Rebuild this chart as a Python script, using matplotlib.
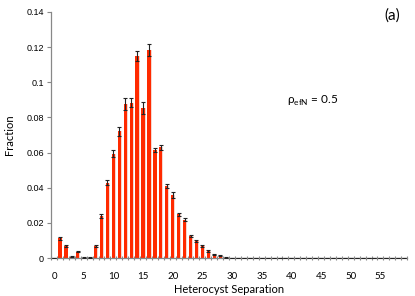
import numpy as np
import matplotlib
matplotlib.use("Agg")
import matplotlib.pyplot as plt
from matplotlib.ticker import FixedLocator

# heterocyst separation (cells) and fraction of intervals
separation = np.arange(0, 60)
fraction_head = [0.0, 0.0112, 0.0070, 0.0008, 0.0036, 0.0003, 0.0003, 0.0070,
                 0.0238, 0.0429, 0.0593, 0.0721, 0.0876, 0.0884, 0.1150, 0.0854,
                 0.1184, 0.0615, 0.0630, 0.0410, 0.0357, 0.0249, 0.0219, 0.0125,
                 0.0098, 0.0068, 0.0041, 0.0021, 0.0013, 0.0003, 0.0002]
error_head = [0.0, 0.0007, 0.0005, 0.0002, 0.0004, 0.0001, 0.0001, 0.0006,
              0.0010, 0.0016, 0.0020, 0.0027, 0.0034, 0.0027, 0.0028, 0.0034,
              0.0036, 0.0012, 0.0015, 0.0013, 0.0018, 0.0010, 0.0008, 0.0007,
              0.0005, 0.0004, 0.0004, 0.0003, 0.0002, 0.0001, 0.0001]
fraction = fraction_head + [0.0] * (len(separation) - len(fraction_head))
error = error_head + [0.0] * (len(separation) - len(error_head))

fig = plt.figure(figsize=(4.15, 2.96), dpi=100)
ax = fig.add_axes([0.123, 0.128, 0.858, 0.832])

#shadow under the bars, like the spreadsheet
ax.bar(separation + 0.12, fraction, 0.62, color='#f6d6cf', zorder=1)
ax.bar(separation, fraction, 0.55, color='#ff2a00', zorder=2)
ax.errorbar(separation, fraction, yerr=error, fmt='none', ecolor='#222222',
            elinewidth=0.8, capsize=1.6, capthick=0.8, zorder=3)

ax.set_xlim(-0.5, 59.5)
ax.set_ylim(0, 0.14)

#y ticks
ax.set_yticks(np.arange(0, 0.141, 0.02))
ax.set_yticklabels(['0', '0.02', '0.04', '0.06', '0.08', '0.1', '0.12', '0.14'],
                   fontsize=6.5, family='Liberation Sans')
ax.tick_params(axis='y', length=3, width=0.8, color='#888888', pad=2)

#x ticks between categories, labels every 5
ax.set_xticks(np.arange(0, 60, 5))
ax.set_xticklabels([str(v) for v in range(0, 60, 5)], fontsize=7, family='Lato')
ax.xaxis.set_minor_locator(FixedLocator(np.arange(-0.5, 60, 1)))
ax.tick_params(axis='x', which='major', length=0, pad=10)
ax.tick_params(axis='x', which='minor', length=3, width=0.8, color='#888888',
               direction='inout')

for side in ['top', 'right']:
    ax.spines[side].set_visible(False)
for side in ['left', 'bottom']:
    ax.spines[side].set_color('#888888')
    ax.spines[side].set_linewidth(0.9)

ax.set_xlabel('Heterocyst Separation', fontsize=8, family='Lato', labelpad=2)
ax.set_ylabel('Fraction', fontsize=8, family='Lato', labelpad=8)

ax.text(0.663, 0.625, 'ρ$_{\\mathregular{efN}}$ = 0.5', transform=ax.transAxes,
        fontsize=8.5, family='Lato')
fig.text(0.925, 0.935, '(a)', fontsize=11, family='Lato')

fig.savefig('out.png', dpi=100)
